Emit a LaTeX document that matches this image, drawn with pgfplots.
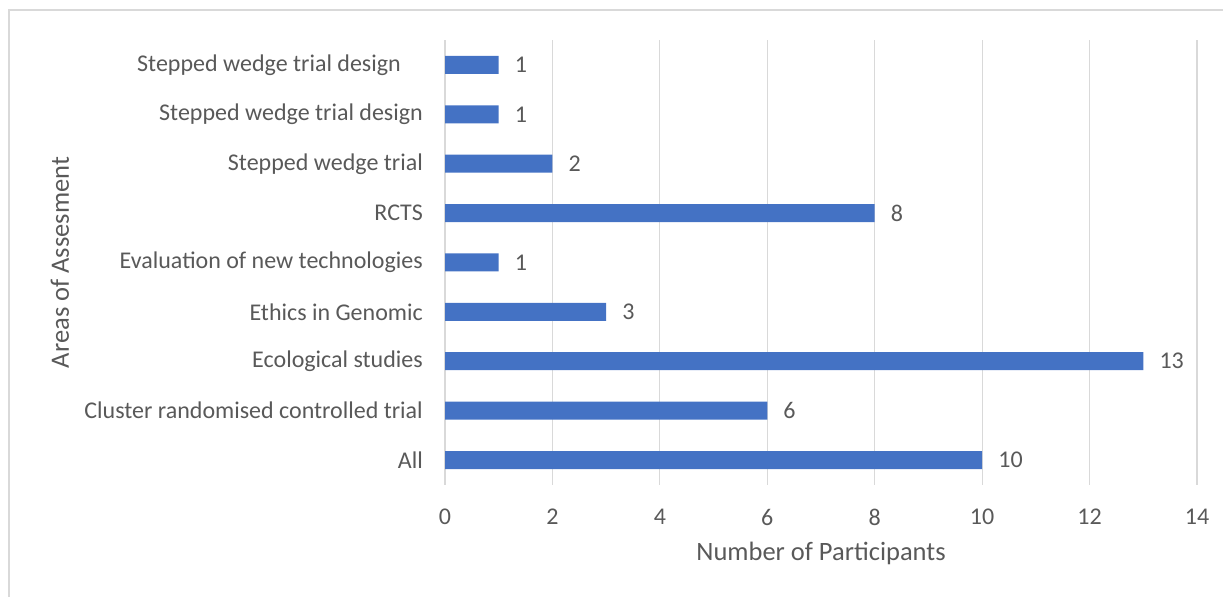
\documentclass[border=0pt]{standalone}
\usepackage{fontspec}
\setmainfont{Carlito}
\usepackage{pgfplots}
\pgfplotsset{compat=1.18}
\definecolor{barblue}{HTML}{4472C4}
\definecolor{txt}{HTML}{595959}
\definecolor{gridc}{HTML}{D9D9D9}
\begin{document}
\fontsize{24bp}{28bp}\selectfont
\begin{tikzpicture}[x=1bp,y=1bp]
\path[use as bounding box] (0,0) rectangle (1223,597);
\draw[gridc, line width=1.5bp] (9,0) -- (9,587) -- (1223,587);
\begin{axis}[
  at={(445bp,112.3bp)}, anchor=south west,
  scale only axis, width=752bp, height=444.4bp,
  xbar, bar width=18bp,
  xmin=0, xmax=14, ymin=-0.5, ymax=8.5,
  xtick={0,2,...,14}, ytick={0,...,8},
  yticklabels={All, Cluster randomised controlled trial, Ecological studies, Ethics in Genomic, Evaluation of new technologies, RCTS, Stepped wedge trial, Stepped wedge trial design, {Stepped wedge trial design\kern22bp}},
  axis line style={draw=none},
  major tick length=0pt,
  xmajorgrids, grid style={gridc, line width=1.2bp},
  /pgf/number format/assume math mode=true,
  tick label style={text=txt, font=\fontsize{24bp}{28bp}\selectfont},
  yticklabel style={xshift=-14bp},
  xticklabel style={yshift=-16bp},
  xlabel={Number of Participants}, ylabel={Areas of Assesment},
  every axis x label/.style={at={(axis description cs:0.5,-0.1537)}, anchor=center, text=txt, font=\fontsize{26.5bp}{30bp}\selectfont},
  every axis y label/.style={at={(axis description cs:-0.512,0.5)}, rotate=90, anchor=center, text=txt, font=\fontsize{26.5bp}{30bp}\selectfont},
  nodes near coords,
  nodes near coords style={anchor=west, xshift=8bp, text=txt, font=\fontsize{24bp}{28bp}\selectfont},
]
\addplot[fill=barblue, draw=none] coordinates {(10,0) (6,1) (13,2) (3,3) (1,4) (8,5) (2,6) (1,7) (1,8)};
\end{axis}
\end{tikzpicture}
\end{document}
